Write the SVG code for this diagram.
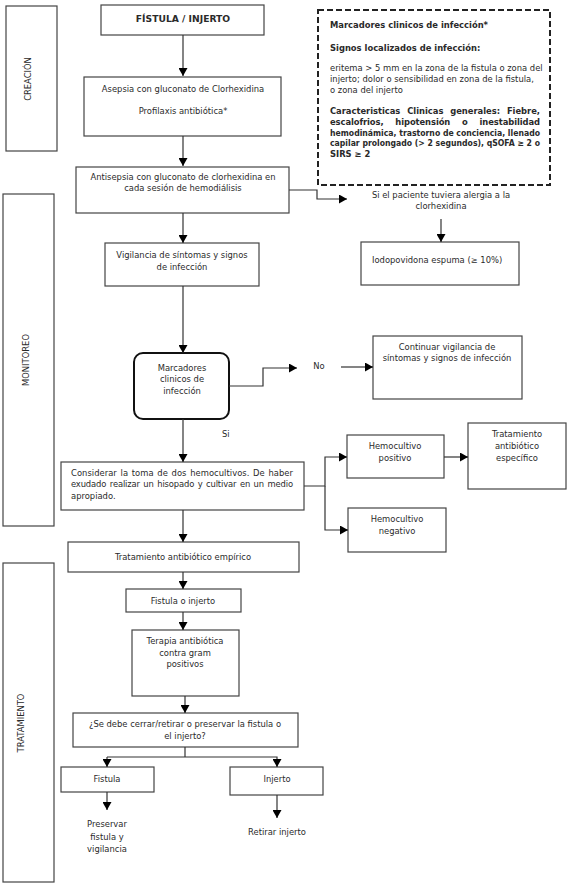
<svg xmlns="http://www.w3.org/2000/svg" width="569" height="886" viewBox="0 0 569 886">
<defs>
<marker id="ah" markerUnits="userSpaceOnUse" markerWidth="9" markerHeight="9" refX="8" refY="4.5" orient="auto">
<path d="M0,0 L8,4.5 L0,9 Z" fill="#000"/>
</marker>
<style>
.b{fill:#fff;stroke:#444;stroke-width:1.2}
.t{font-family:"DejaVu Sans","Noto Sans",sans-serif;font-size:8.4px;fill:#2a2a2a}
.c{text-anchor:middle}
.bd{font-weight:bold}
.l{fill:none;stroke:#333;stroke-width:1.2}
.a{marker-end:url(#ah)}
</style>
</defs>
<rect width="569" height="886" fill="#fff"/>

<g id="lane-creacion"><rect class="b" x="6" y="6" width="51" height="145"/><text class="t c" transform="translate(31,79) rotate(-90)">CREACIÓN</text></g>
<g id="lane-monitoreo"><rect class="b" x="3" y="194" width="51" height="332"/><text class="t c" transform="translate(29,360) rotate(-90)">MONITOREO</text></g>
<g id="lane-tratamiento"><rect class="b" x="3" y="563" width="51" height="319"/><text class="t c" transform="translate(24,723) rotate(-90)">TRATAMIENTO</text></g>

<g id="n-fistula-injerto"><rect class="b" x="101" y="5" width="163" height="30"/><text class="t c bd" x="183" y="22" style="font-size:9.2px">FÍSTULA / INJERTO</text></g>
<g id="n-asepsia"><rect class="b" x="84" y="77" width="197" height="59"/><text class="t c" x="183" y="92">Asepsia con gluconato de Clorhexidina</text><text class="t c" x="183" y="114">Profilaxis antibiótica*</text></g>
<g id="n-antisepsia"><rect class="b" x="76" y="167" width="213" height="46"/><text class="t c" x="183" y="180">Antisepsia con gluconato de clorhexidina en</text><text class="t c" x="183" y="191">cada sesión de hemodiálisis</text></g>
<g id="n-marcadores-info"><rect x="318" y="10" width="232" height="175" fill="#fff" stroke="#222" stroke-width="2" stroke-dasharray="6,3"/>
<text class="t bd" x="330" y="28">Marcadores clinicos de infección*</text>
<text class="t bd" x="330" y="51">Signos localizados de infección:</text>
<text class="t" x="330" y="71">eritema &gt; 5 mm en la zona de la fistula o zona del</text>
<text class="t" x="330" y="82">injerto; dolor o sensibilidad en zona de la fistula,</text>
<text class="t" x="330" y="93">o zona del injerto</text>
<text class="t bd" x="330" y="114" style="word-spacing:4px" textLength="210" lengthAdjust="spacing">Caracteristicas Clinicas generales: Fiebre,</text>
<text class="t bd" x="330" y="125" style="word-spacing:9px" textLength="210" lengthAdjust="spacing">escalofrios, hipotensión o inestabilidad</text>
<text class="t bd" x="330" y="136" textLength="210" lengthAdjust="spacingAndGlyphs">hemodinámica, trastorno de conciencia, llenado</text>
<text class="t bd" x="330" y="146" textLength="210" lengthAdjust="spacingAndGlyphs">capilar prolongado (&gt; 2 segundos), qSOFA ≥ 2 o</text>
<text class="t bd" x="330" y="157">SIRS ≥ 2</text></g>
<g id="n-alergia"><text class="t c" x="441" y="198">Si el paciente tuviera alergia a la</text><text class="t c" x="441" y="209">clorhexidina</text></g>
<g id="n-iodopovidona"><rect class="b" x="361" y="242" width="158" height="43"/><text class="t" x="372" y="263">Iodopovidona espuma (≥ 10%)</text></g>
<g id="n-vigilancia"><rect class="b" x="105" y="243" width="154" height="43"/><text class="t c" x="182" y="258">Vigilancia de síntomas y signos</text><text class="t c" x="182" y="270">de infección</text></g>
<g id="n-marcadores"><rect x="134" y="353" width="95" height="66" rx="9" fill="#fff" stroke="#111" stroke-width="2"/><text class="t c" x="182" y="371">Marcadores</text><text class="t c" x="182" y="382">clinicos de</text><text class="t c" x="182" y="394">infección</text></g>
<g id="n-no"><text class="t c" x="319" y="369">No</text></g>
<g id="n-continuar"><rect class="b" x="373" y="336" width="149" height="63"/><text class="t c" x="447" y="350">Continuar vigilancia de</text><text class="t c" x="447" y="361">síntomas y signos de infección</text></g>
<g id="n-si"><text class="t" x="222" y="437">Si</text></g>
<g id="n-considerar"><rect class="b" x="61" y="462" width="243" height="48"/>
<text class="t" x="71" y="476" style="word-spacing:1px" textLength="222" lengthAdjust="spacing">Considerar la toma de dos hemocultivos. De haber</text>
<text class="t" x="71" y="487" style="word-spacing:1px" textLength="222" lengthAdjust="spacing">exudado realizar un hisopado y cultivar en un medio</text>
<text class="t" x="71" y="499">apropiado.</text></g>
<g id="n-hemo-pos"><rect class="b" x="347" y="435" width="97" height="43"/><text class="t c" x="395" y="449">Hemocultivo</text><text class="t c" x="395" y="461">positivo</text></g>
<g id="n-trat-especifico"><rect class="b" x="468" y="423" width="98" height="66"/><text class="t c" x="517" y="437">Tratamiento</text><text class="t c" x="517" y="449">antibiótico</text><text class="t c" x="517" y="461">específico</text></g>
<g id="n-hemo-neg"><rect class="b" x="348" y="508" width="98" height="44"/><text class="t c" x="397" y="522">Hemocultivo</text><text class="t c" x="397" y="534">negativo</text></g>
<g id="n-empirico"><rect class="b" x="68" y="542" width="231" height="30"/><text class="t c" x="183" y="560">Tratamiento antibiótico empírico</text></g>
<g id="n-fistula-o-injerto"><rect class="b" x="126" y="589" width="115" height="23"/><text class="t c" x="183" y="604">Fistula o injerto</text></g>
<g id="n-terapia"><rect class="b" x="132" y="630" width="107" height="66"/><text class="t c" x="185" y="644">Terapia antibiótica</text><text class="t c" x="185" y="656">contra gram</text><text class="t c" x="185" y="667">positivos</text></g>
<g id="n-decision"><rect class="b" x="73" y="713" width="225" height="34"/><text class="t c" x="185" y="727">¿Se debe cerrar/retirar o preservar la fistula o</text><text class="t c" x="185" y="739">el injerto?</text></g>
<g id="n-fistula"><rect class="b" x="61" y="767" width="93" height="25"/><text class="t c" x="107" y="782">Fistula</text></g>
<g id="n-injerto"><rect class="b" x="230" y="767" width="93" height="28"/><text class="t c" x="277" y="782">Injerto</text></g>
<g id="n-preservar"><text class="t c" x="107" y="827">Preservar</text><text class="t c" x="107" y="840">fistula y</text><text class="t c" x="107" y="852">vigilancia</text></g>
<g id="n-retirar"><text class="t c" x="277" y="835">Retirar injerto</text></g>

<g id="connectors">
<path class="l a" d="M183,35 V76"/>
<path class="l a" d="M183,136 V166"/>
<path class="l a" d="M289,190 H317 V199 H347"/>
<path class="l a" d="M441,219 V242"/>
<path class="l a" d="M183,213 V243"/>
<path class="l a" d="M183,286 V353"/>
<path class="l a" d="M229,386 H263 V368 H297"/>
<path class="l a" d="M341,367 H373"/>
<path class="l a" d="M183,419 V462"/>
<path class="l a" d="M304,486 H325 V457 H347"/>
<path class="l a" d="M325,486 V530 H348"/>
<path class="l a" d="M444,457 H468"/>
<path class="l a" d="M183,510 V542"/>
<path class="l a" d="M183,572 V589"/>
<path class="l a" d="M183,612 V630"/>
<path class="l a" d="M185,696 V713"/>
<path class="l" d="M185,747 V757"/>
<path class="l a" d="M107,757 H277 V767"/>
<path class="l a" d="M107,757 V767"/>
<path class="l a" d="M107,792 V810"/>
<path class="l a" d="M277,795 V818"/>
</g>
</svg>
